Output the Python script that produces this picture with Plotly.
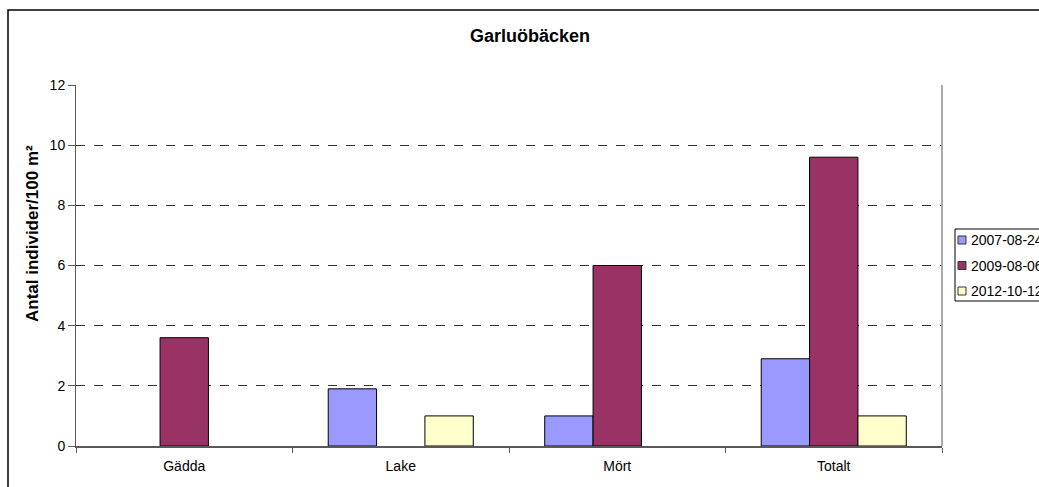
import plotly.graph_objects as go

# Fish density per species and survey date (individuals per 100 m²)
categories = ["Gädda", "Lake", "Mört", "Totalt"]
dates = ["2007-08-24", "2009-08-06", "2012-10-12"]
values_2007 = [None, 1.9, 1.0, 2.9]
values_2009 = [3.6, None, 6.0, 9.6]
values_2012 = [None, 1.0, None, 1.0]
colors = ["#9999FF", "#993366", "#FFFFCC"]

series = [values_2007, values_2009, values_2012]

fig = go.Figure()
for name, vals, col in zip(dates, series, colors):
    fig.add_trace(go.Bar(
        x=categories, y=vals, name=name, showlegend=False,
        marker=dict(color=col, line=dict(color="black", width=1)),
    ))

W, H = 1039, 487
L, R, T, B = 76, 97, 85, 41
pw, ph = W - L - R, H - T - B


def px_x(x):
    return (x - L) / pw


def px_y(y):
    return (H - B - y) / ph


font = "Arial, Liberation Sans, sans-serif"

shapes = [
    # plot area right edge
    dict(type="line", xref="paper", yref="paper", x0=1, x1=1, y0=0, y1=1,
         line=dict(color="#AAAAAA", width=2)),
    # outer chart frame
    dict(type="rect", xref="paper", yref="paper",
         x0=px_x(8), x1=px_x(1060), y0=px_y(495), y1=px_y(10),
         line=dict(color="black", width=1.5), layer="below"),
    # legend box
    dict(type="rect", xref="paper", yref="paper",
         x0=px_x(955), x1=px_x(1060), y0=px_y(301), y1=px_y(229),
         line=dict(color="black", width=1), fillcolor="white"),
]

annotations = [
    # chart title, centred on the chart frame
    dict(text="<b>Garluöbäcken</b>", xref="paper", yref="paper",
         x=px_x(530), y=px_y(36), xanchor="center", yanchor="middle",
         showarrow=False, font=dict(size=18, family=font, color="black")),
    # value axis title
    dict(text="<b>Antal individer/100 m²</b>", xref="paper", yref="paper",
         x=px_x(33), y=px_y(234), xanchor="center", yanchor="middle",
         textangle=-90, showarrow=False,
         font=dict(size=17, family=font, color="black")),
]

legend_rows = [240, 265.5, 291]
for name, col, yc in zip(dates, colors, legend_rows):
    shapes.append(dict(type="rect", xref="paper", yref="paper",
                       x0=px_x(958), x1=px_x(966),
                       y0=px_y(yc + 4), y1=px_y(yc - 4),
                       fillcolor=col, line=dict(color="#333333", width=1)))
    annotations.append(dict(text=name, xref="paper", yref="paper",
                            x=px_x(969), y=px_y(yc), xanchor="left",
                            yanchor="middle", showarrow=False,
                            font=dict(size=14, family=font, color="black")))

fig.update_layout(
    width=W, height=H,
    margin=dict(l=L, r=R, t=T, b=B, autoexpand=False),
    paper_bgcolor="white", plot_bgcolor="white",
    barmode="group", bargap=0.33, bargroupgap=0,
    showlegend=False,
    font=dict(family=font, size=14, color="black"),
    xaxis=dict(showline=True, linecolor="#595959", linewidth=2,
               ticks="outside", tickson="boundaries", ticklen=5,
               tickcolor="#595959", ticklabelstandoff=6,
               tickfont=dict(size=14)),
    yaxis=dict(range=[0, 12], dtick=2, showline=True, linecolor="#595959",
               linewidth=1, ticks="outside", ticklen=7, tickcolor="#595959",
               showgrid=True, gridcolor="#333333", griddash="dash",
               gridwidth=1, zeroline=False,
               tickfont=dict(size=14)),
    shapes=shapes,
    annotations=annotations,
)

fig.write_html("out.html")
